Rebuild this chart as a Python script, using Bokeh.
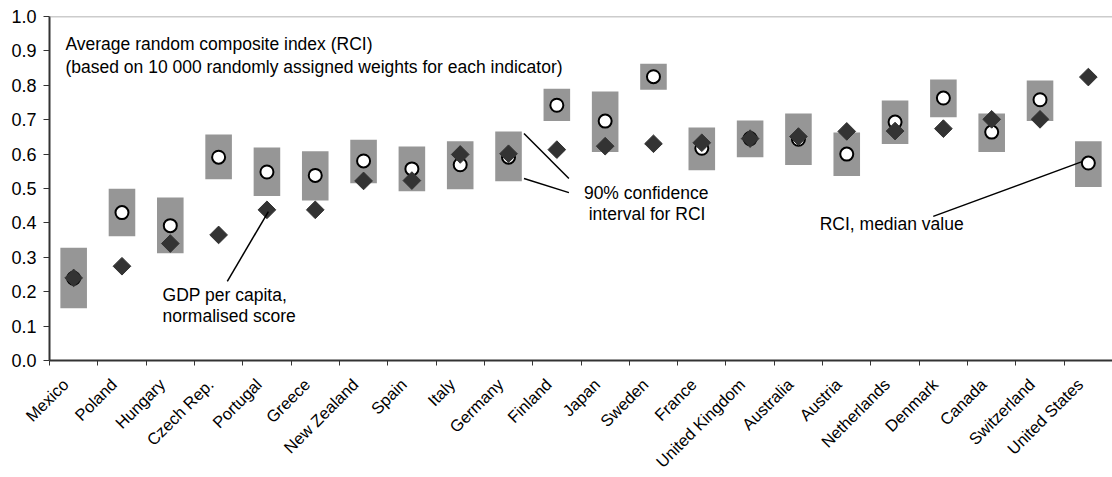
import math
from bokeh.plotting import figure
from bokeh.models import FixedTicker, Span, Label, ColumnDataSource
from bokeh.embed import file_html
from bokeh.resources import INLINE

countries = ["Mexico", "Poland", "Hungary", "Czech Rep.", "Portugal", "Greece", "New Zealand",
             "Spain", "Italy", "Germany", "Finland", "Japan", "Sweden", "France", "United Kingdom",
             "Australia", "Austria", "Netherlands", "Denmark", "Canada", "Switzerland", "United States"]
ci_low = [0.152, 0.361, 0.312, 0.527, 0.478, 0.465, 0.515, 0.492, 0.498, 0.521, 0.696, 0.606,
          0.787, 0.553, 0.591, 0.568, 0.536, 0.629, 0.707, 0.606, 0.696, 0.504]
ci_high = [0.328, 0.499, 0.474, 0.657, 0.619, 0.608, 0.642, 0.622, 0.637, 0.666, 0.790, 0.782,
           0.863, 0.677, 0.698, 0.718, 0.663, 0.756, 0.817, 0.718, 0.814, 0.637]
rci_median = [0.239, 0.430, 0.392, 0.591, 0.548, 0.538, 0.580, 0.557, 0.569, 0.591, 0.742, 0.696,
              0.825, 0.617, 0.645, 0.643, 0.600, 0.693, 0.763, 0.664, 0.758, 0.574]
gdp_score = [0.240, 0.274, 0.340, 0.365, 0.438, 0.438, 0.522, 0.523, 0.599, 0.601, 0.613, 0.623,
             0.630, 0.633, 0.645, 0.651, 0.666, 0.667, 0.674, 0.701, 0.701, 0.824]
y_ticks = [0.0, 0.1, 0.2, 0.3, 0.4, 0.5, 0.6, 0.7, 0.8, 0.9, 1.0]

n = len(countries)
xc = [i + 0.5 for i in range(n)]
src = ColumnDataSource(dict(x=xc, lo=ci_low, hi=ci_high, med=rci_median, gdp=gdp_score))

FONT = "Liberation Sans"

p = figure(frame_width=1063, frame_height=344, x_range=(0, n), y_range=(0, 1.0),
           output_backend="svg", toolbar_location=None,
           min_border_left=49, min_border_right=0, min_border_top=16, min_border_bottom=0)
p.xgrid.visible = False
p.ygrid.visible = False
p.outline_line_color = None
p.background_fill_color = "white"

p.vbar(x="x", bottom="lo", top="hi", width=0.55, source=src,
       fill_color="#969696", line_color=None)
p.scatter(x="x", y="med", source=src, marker="circle", size=13,
          fill_color="white", line_color="black", line_width=2)
p.scatter(x="x", y="gdp", source=src, marker="square", size=12.5, angle=math.pi / 4,
          fill_color="#333333", line_color="#333333")

p.add_layout(Span(location=1.0, dimension="width", line_color="#999999", line_width=1.5))

# axes
label_pos = [i + 0.33 for i in range(n)]
xa = p.xaxis[0]
xa.ticker = FixedTicker(ticks=label_pos, minor_ticks=list(range(n + 1)))
xa.major_label_overrides = {x: c for x, c in zip(label_pos, countries)}
xa.major_label_orientation = math.pi / 4
xa.major_tick_out = 0
xa.major_tick_in = 0
xa.minor_tick_out = 5
xa.minor_tick_in = 0
xa.minor_tick_line_color = "#333333"
xa.axis_line_color = "#333333"
xa.axis_line_width = 2
xa.major_label_text_font = FONT
xa.major_label_text_font_size = "16.5px"
xa.major_label_text_color = "black"
xa.major_label_standoff = 16

ya = p.yaxis[0]
ya.ticker = FixedTicker(ticks=y_ticks)
ya.major_label_overrides = {t: f"{t:.1f}" for t in y_ticks}
ya.major_tick_out = 6
ya.major_tick_in = 0
ya.minor_tick_out = 0
ya.minor_tick_in = 0
ya.axis_line_color = "#333333"
ya.axis_line_width = 2
ya.major_tick_line_color = "#333333"
ya.major_label_text_font = FONT
ya.major_label_text_font_size = "18px"
ya.major_label_text_color = "black"
ya.major_label_standoff = 7

# annotations
def lab(x, y, t):
    p.add_layout(Label(x=x, y=y, text=t, text_font=FONT, text_font_size="17.5px",
                       text_color="black", text_baseline="middle", text_align="left"))

lab(0.33, 0.919, "Average random composite index (RCI)")
lab(0.33, 0.852, "(based on 10 000 randomly assigned weights for each indicator)")
lab(2.34, 0.189, "GDP per capita,")
lab(2.34, 0.128, "normalised score")
lab(11.06, 0.488, "90% confidence")
lab(11.16, 0.427, "interval for RCI")
lab(15.94, 0.398, "RCI, median value")

p.segment(x0=[3.68, 9.82, 9.82, 18.29], y0=[0.230, 0.660, 0.529, 0.419],
          x1=[4.53, 10.75, 10.75, 21.37], y1=[0.433, 0.529, 0.488, 0.578],
          line_color="black", line_width=1.5)

open("out.html", "w").write(file_html(p, INLINE))
